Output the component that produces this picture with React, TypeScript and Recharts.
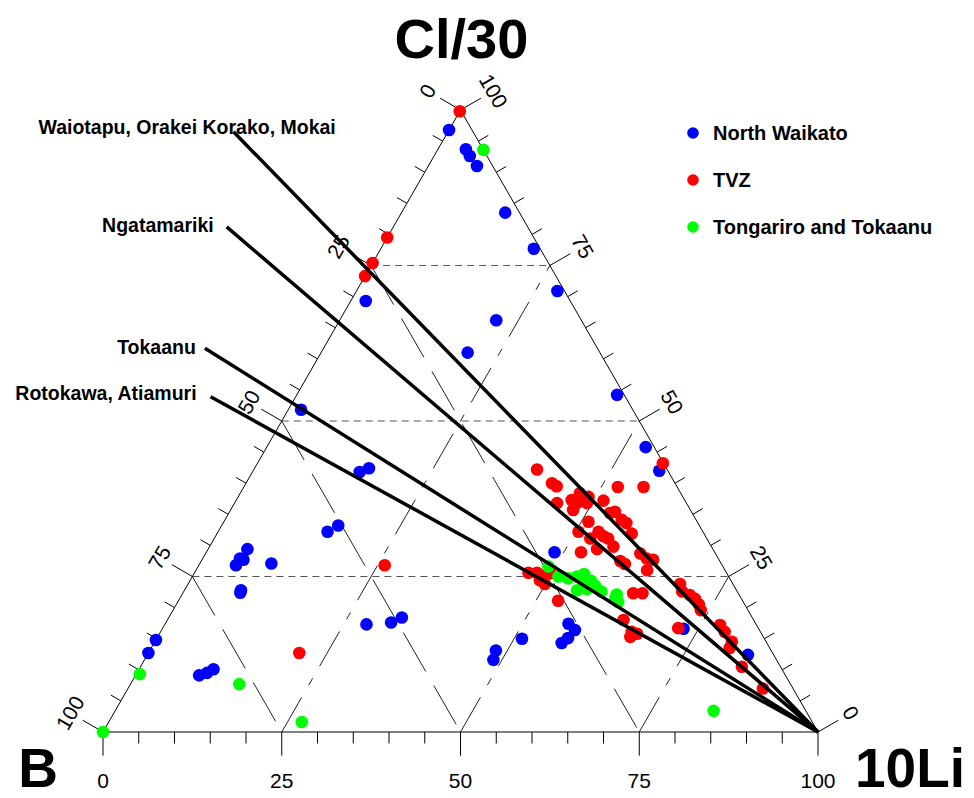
import { ScatterChart, Scatter, XAxis, YAxis } from 'recharts'

// every sample as [10Li %, Cl/30 %]; B is what is left to 100
const northWaikato: [number, number][] = [
  [0.0, 96.8], [3.9, 93.7], [5.0, 92.6], [6.8, 91.0], [14.5, 83.5], [21.4, 77.7],
  [28.1, 70.9], [2.1, 69.3], [21.9, 66.2], [20.5, 61.0], [1.8, 51.8], [44.8, 54.2],
  [53.0, 45.8], [56.8, 42.0], [15.0, 41.8], [16.0, 42.4], [15.3, 32.2], [16.3, 33.2],
  [5.5, 29.4], [5.2, 27.9], [5.8, 27.7], [5.2, 26.8], [10.0, 27.1], [8.0, 22.4],
  [7.9, 22.8], [0.0, 14.8], [0.0, 12.7], [8.9, 9.1], [9.8, 9.5], [10.4, 10.1],
  [28.2, 17.3], [31.5, 17.6], [32.6, 18.4], [48.7, 28.9], [51.1, 15.0], [48.4, 13.1],
  [48.8, 11.6], [56.4, 17.4], [57.8, 16.4], [57.5, 15.1], [57.0, 14.3], [72.9, 16.6],
  [84.0, 12.4],
]

const tvz: [number, number][] = [
  [0, 99.8], [0, 79.5], [0, 75.4], [0, 73.3], [56.7, 43.2], [39.6, 42.2],
  [42.8, 40.0], [43.7, 39.5], [52.3, 39.4], [55.9, 39.4], [45.1, 36.8], [46.9, 37.3],
  [47.9, 36.8], [47.9, 35.7], [47.5, 38.4], [49.0, 37.8], [49.3, 36.8], [51.4, 37.2],
  [53.3, 35.2], [53.9, 35.4], [55.5, 34.1], [56.4, 33.6], [58.0, 31.9], [51.0, 33.8],
  [50.4, 32.2], [53.2, 32.2], [54.2, 31.5], [55.1, 31.1], [52.6, 31.1], [56.5, 29.8],
  [54.4, 29.4], [52.4, 28.9], [58.6, 27.5], [59.5, 27.0], [60.8, 28.7], [62.1, 27.9],
  [63.1, 27.7], [63.1, 26.0], [46.7, 25.6], [47.9, 25.6], [48.8, 25.1], [48.9, 24.4],
  [49.9, 23.8], [49.8, 25.5], [53.1, 21.1], [63.0, 22.3], [64.3, 22.3], [63.8, 18.0],
  [65.9, 16.1], [66.8, 15.8], [66.1, 15.3], [68.8, 23.8], [69.7, 22.6], [71.1, 22.0],
  [72.1, 21.4], [73.1, 20.5], [73.8, 19.6], [72.1, 16.7], [77.7, 17.2], [78.9, 16.1],
  [80.7, 14.5], [80.9, 13.5], [84.1, 10.5], [88.8, 7.0], [26.0, 26.8], [21.1, 12.7],
]

const tongariroTokaanu: [number, number][] = [
  [6.4, 93.6], [49.0, 26.6], [51.2, 25.0], [52.7, 24.7], [53.8, 25.0], [54.6, 25.4],
  [55.1, 24.2], [56.1, 24.3], [57.1, 23.5], [54.9, 22.8], [56.2, 23.0], [58.4, 22.6],
  [60.8, 22.1], [61.6, 20.9], [60.9, 21.5], [83.7, 3.4], [0.5, 9.3], [15.2, 7.7],
  [27.0, 1.6], [0, 0],
]

// lines drawn from the 10Li corner; far end as [10Li, Cl/30]
const fieldLineNames = ['Waiotapu, Orakei Korako, Mokai', 'Ngatamariki', 'Tokaanu', 'Rotokawa, Atiamuri']
const fieldLineEnds: [number, number][] = [[-30.0, 96.5], [-23.3, 81.2], [-16.6, 61.7], [-11.9, 53.9]]

const gridValues = [25, 50, 75]
const tickSteps = [0, 5, 10, 15, 20, 25, 30, 35, 40, 45, 50, 55, 60, 65, 70, 75, 80, 85, 90, 95, 100]
const axisLabels = [0, 25, 50, 75, 100]

const series = [
  { name: 'North Waikato', color: '#0000ff', points: northWaikato },
  { name: 'TVZ', color: '#ff0000', points: tvz },
  { name: 'Tongariro and Tokaanu', color: '#00ff00', points: tongariroTokaanu },
]

const FONT = '"Liberation Sans", Arial, Helvetica, sans-serif'
const SQ = Math.sqrt(3) / 2

type P = { x: number; y: number }
const toXY = (li: number, cl: number): P => ({ x: li + cl / 2, y: cl * SQ })
const along = (p: P, n: P, d: number): P => ({ x: p.x + n.x * d, y: p.y + n.y * d })

const OUT_LEFT = { x: -SQ, y: 0.5 }
const OUT_RIGHT = { x: SQ, y: 0.5 }
const DOWN = { x: 0, y: -1 }

const lineStyles: Record<string, any> = {
  edge: { stroke: '#000', strokeWidth: 1 },
  tick: { stroke: '#000', strokeWidth: 1 },
  gridCl: { stroke: '#555', strokeWidth: 1, strokeDasharray: '7 5' },
  gridB: { stroke: '#222', strokeWidth: 1, strokeDasharray: '45 16' },
  gridLi: { stroke: '#222', strokeWidth: 1, strokeDasharray: '40 14 8 14' },
  field: { stroke: '#000', strokeWidth: 3.5 },
}

const segments: { kind: string; pts: P[] }[] = []

gridValues.forEach((v) => {
  segments.push({ kind: 'gridCl', pts: [toXY(0, v), toXY(100 - v, v)] })
  segments.push({ kind: 'gridB', pts: [toXY(0, 100 - v), toXY(100 - v, 0)] })
  segments.push({ kind: 'gridLi', pts: [toXY(v, 0), toXY(v, 100 - v)] })
})

segments.push({ kind: 'edge', pts: [toXY(0, 0), toXY(100, 0)] })
segments.push({ kind: 'edge', pts: [toXY(0, 0), toXY(0, 100)] })
segments.push({ kind: 'edge', pts: [toXY(100, 0), toXY(0, 100)] })

tickSteps.forEach((t) => {
  const len = t % 25 === 0 ? 3.3 : 1.6
  const b = toXY(t, 0)
  segments.push({ kind: 'tick', pts: [b, along(b, DOWN, len)] })
  const l = toXY(0, t)
  segments.push({ kind: 'tick', pts: [l, along(l, OUT_LEFT, len)] })
  const r = toXY(100 - t, t)
  segments.push({ kind: 'tick', pts: [r, along(r, OUT_RIGHT, len)] })
})

const fieldStyle = [
  { anchor: 'start', dx: -195, dy: -5 },
  { anchor: 'end', dx: -13, dy: -2 },
  { anchor: 'end', dx: -9, dy: -1 },
  { anchor: 'end', dx: -14, dy: -4 },
]

fieldLineEnds.forEach(([li, cl]) => {
  segments.push({ kind: 'field', pts: [toXY(100, 0), toXY(li, cl)] })
})

const labels: any[] = [
  ...axisLabels.map((v) => ({ ...along(toXY(0, 100 - v), OUT_LEFT, 5.3), text: String(v), rot: -60, size: 21, center: true })),
  ...axisLabels.map((v) => ({ ...along(toXY(100 - v, v), OUT_RIGHT, 5.3), text: String(v), rot: 60, size: 21, center: true })),
  ...axisLabels.map((v) => ({ ...along(toXY(v, 0), DOWN, 6.8), text: String(v), size: 21, center: true })),
  ...fieldLineEnds.map(([li, cl], i) => ({
    ...toXY(li, cl), text: fieldLineNames[i], size: 19.5, bold: true, center: true, ...fieldStyle[i],
  })),
  { ...toXY(0, 100), text: 'Cl/30', size: 56, bold: true, dx: 1, dy: -52 },
  { ...toXY(0, 0), text: 'B', size: 55, bold: true, dx: -65, dy: 55 },
  { ...toXY(100, 0), text: '10Li', size: 55, bold: true, dx: 92, dy: 55 },
]

const TextShape = (props: any) => {
  const { cx, cy, payload: d } = props
  const x = cx + (d.dx ?? 0)
  const y = cy + (d.dy ?? 0)
  return (
    <text
      x={x}
      y={y}
      dy={d.center ? '0.35em' : undefined}
      textAnchor={d.anchor ?? 'middle'}
      transform={d.rot ? `rotate(${d.rot} ${x} ${y})` : undefined}
      fontFamily={FONT}
      fontSize={d.size}
      fontWeight={d.bold ? 700 : 400}
      fill="#000"
    >
      {d.text}
    </text>
  )
}

const noShape = () => <g />

export default function App() {
  return (
    <div style={{ position: 'absolute', left: 0, top: 0, width: 974, height: 798, background: '#fff' }}>
      <ScatterChart width={974} height={798} margin={{ top: 0, right: 0, bottom: 0, left: 0 }}>
        <XAxis type="number" dataKey="x" domain={[-14.406, 121.818]} allowDataOverflow hide />
        <YAxis type="number" dataKey="y" domain={[-9.19, 101.922]} allowDataOverflow hide />
        {segments
          .filter((s) => s.kind !== 'field')
          .map((s, i) => (
            <Scatter key={`seg-${i}`} data={s.pts} line={lineStyles[s.kind]} shape={noShape} isAnimationActive={false} />
          ))}
        {series.map((s) => (
          <Scatter
            key={s.name}
            name={s.name}
            data={s.points.map(([li, cl]) => toXY(li, cl))}
            shape={(p: any) => <circle cx={p.cx} cy={p.cy} r={6.3} fill={s.color} />}
            isAnimationActive={false}
          />
        ))}
        {segments
          .filter((s) => s.kind === 'field')
          .map((s, i) => (
            <Scatter key={`field-${i}`} data={s.pts} line={lineStyles.field} shape={noShape} isAnimationActive={false} />
          ))}
        <Scatter data={labels} shape={TextShape} isAnimationActive={false} />
      </ScatterChart>
      <div style={{ position: 'absolute', left: 686, top: 118, fontFamily: FONT, fontWeight: 700, fontSize: 20 }}>
        {series.map((s) => (
          <div key={s.name} style={{ display: 'flex', alignItems: 'center', height: 30, marginBottom: 17 }}>
            <svg width={14} height={14} style={{ marginRight: 13 }}>
              <circle cx={7} cy={7} r={5.8} fill={s.color} />
            </svg>
            <span>{s.name}</span>
          </div>
        ))}
      </div>
    </div>
  )
}
